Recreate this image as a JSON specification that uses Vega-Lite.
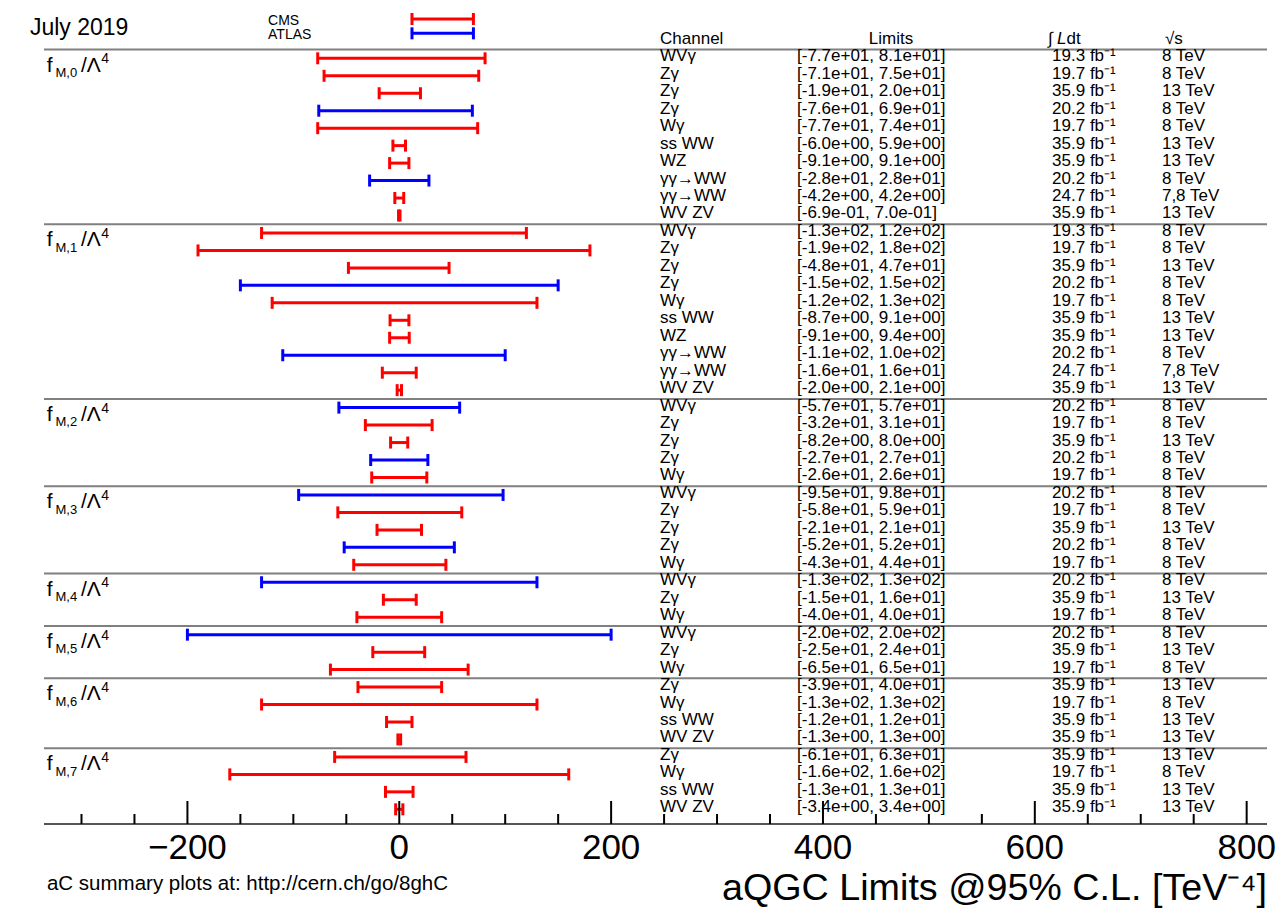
{
  "$schema": "https://vega.github.io/schema/vega-lite/v6.json",
  "autosize": {"type": "none"},
  "padding": {"left": 44, "top": 8, "right": 11, "bottom": 84},
  "width": 1223,
  "height": 816,
  "background": "white",
  "config": {
    "view": {"stroke": null},
    "text": {"font": "Liberation Sans", "fontSize": 17, "color": "#000000"},
    "tick": {"opacity": 1}
  },
  "datasets": {
    "limits": [
      {"row": 0, "ch": "WVγ", "lo": -77, "hi": 81, "lim": "[-7.7e+01, 8.1e+01]", "lumi": "19.3 fb⁻¹", "E": "8 TeV", "exp": "CMS"},
      {"row": 1, "ch": "Zγ", "lo": -71, "hi": 75, "lim": "[-7.1e+01, 7.5e+01]", "lumi": "19.7 fb⁻¹", "E": "8 TeV", "exp": "CMS"},
      {"row": 2, "ch": "Zγ", "lo": -19, "hi": 20, "lim": "[-1.9e+01, 2.0e+01]", "lumi": "35.9 fb⁻¹", "E": "13 TeV", "exp": "CMS"},
      {"row": 3, "ch": "Zγ", "lo": -76, "hi": 69, "lim": "[-7.6e+01, 6.9e+01]", "lumi": "20.2 fb⁻¹", "E": "8 TeV", "exp": "ATLAS"},
      {"row": 4, "ch": "Wγ", "lo": -77, "hi": 74, "lim": "[-7.7e+01, 7.4e+01]", "lumi": "19.7 fb⁻¹", "E": "8 TeV", "exp": "CMS"},
      {"row": 5, "ch": "ss WW", "lo": -6.0, "hi": 5.9, "lim": "[-6.0e+00, 5.9e+00]", "lumi": "35.9 fb⁻¹", "E": "13 TeV", "exp": "CMS"},
      {"row": 6, "ch": "WZ", "lo": -9.1, "hi": 9.1, "lim": "[-9.1e+00, 9.1e+00]", "lumi": "35.9 fb⁻¹", "E": "13 TeV", "exp": "CMS"},
      {"row": 7, "ch": "γγ→WW", "lo": -28, "hi": 28, "lim": "[-2.8e+01, 2.8e+01]", "lumi": "20.2 fb⁻¹", "E": "8 TeV", "exp": "ATLAS"},
      {"row": 8, "ch": "γγ→WW", "lo": -4.2, "hi": 4.2, "lim": "[-4.2e+00, 4.2e+00]", "lumi": "24.7 fb⁻¹", "E": "7,8 TeV", "exp": "CMS"},
      {"row": 9, "ch": "WV ZV", "lo": -0.69, "hi": 0.70, "lim": "[-6.9e-01, 7.0e-01]", "lumi": "35.9 fb⁻¹", "E": "13 TeV", "exp": "CMS"},
      {"row": 10, "ch": "WVγ", "lo": -130, "hi": 120, "lim": "[-1.3e+02, 1.2e+02]", "lumi": "19.3 fb⁻¹", "E": "8 TeV", "exp": "CMS"},
      {"row": 11, "ch": "Zγ", "lo": -190, "hi": 180, "lim": "[-1.9e+02, 1.8e+02]", "lumi": "19.7 fb⁻¹", "E": "8 TeV", "exp": "CMS"},
      {"row": 12, "ch": "Zγ", "lo": -48, "hi": 47, "lim": "[-4.8e+01, 4.7e+01]", "lumi": "35.9 fb⁻¹", "E": "13 TeV", "exp": "CMS"},
      {"row": 13, "ch": "Zγ", "lo": -150, "hi": 150, "lim": "[-1.5e+02, 1.5e+02]", "lumi": "20.2 fb⁻¹", "E": "8 TeV", "exp": "ATLAS"},
      {"row": 14, "ch": "Wγ", "lo": -120, "hi": 130, "lim": "[-1.2e+02, 1.3e+02]", "lumi": "19.7 fb⁻¹", "E": "8 TeV", "exp": "CMS"},
      {"row": 15, "ch": "ss WW", "lo": -8.7, "hi": 9.1, "lim": "[-8.7e+00, 9.1e+00]", "lumi": "35.9 fb⁻¹", "E": "13 TeV", "exp": "CMS"},
      {"row": 16, "ch": "WZ", "lo": -9.1, "hi": 9.4, "lim": "[-9.1e+00, 9.4e+00]", "lumi": "35.9 fb⁻¹", "E": "13 TeV", "exp": "CMS"},
      {"row": 17, "ch": "γγ→WW", "lo": -110, "hi": 100, "lim": "[-1.1e+02, 1.0e+02]", "lumi": "20.2 fb⁻¹", "E": "8 TeV", "exp": "ATLAS"},
      {"row": 18, "ch": "γγ→WW", "lo": -16, "hi": 16, "lim": "[-1.6e+01, 1.6e+01]", "lumi": "24.7 fb⁻¹", "E": "7,8 TeV", "exp": "CMS"},
      {"row": 19, "ch": "WV ZV", "lo": -2.0, "hi": 2.1, "lim": "[-2.0e+00, 2.1e+00]", "lumi": "35.9 fb⁻¹", "E": "13 TeV", "exp": "CMS"},
      {"row": 20, "ch": "WVγ", "lo": -57, "hi": 57, "lim": "[-5.7e+01, 5.7e+01]", "lumi": "20.2 fb⁻¹", "E": "8 TeV", "exp": "ATLAS"},
      {"row": 21, "ch": "Zγ", "lo": -32, "hi": 31, "lim": "[-3.2e+01, 3.1e+01]", "lumi": "19.7 fb⁻¹", "E": "8 TeV", "exp": "CMS"},
      {"row": 22, "ch": "Zγ", "lo": -8.2, "hi": 8.0, "lim": "[-8.2e+00, 8.0e+00]", "lumi": "35.9 fb⁻¹", "E": "13 TeV", "exp": "CMS"},
      {"row": 23, "ch": "Zγ", "lo": -27, "hi": 27, "lim": "[-2.7e+01, 2.7e+01]", "lumi": "20.2 fb⁻¹", "E": "8 TeV", "exp": "ATLAS"},
      {"row": 24, "ch": "Wγ", "lo": -26, "hi": 26, "lim": "[-2.6e+01, 2.6e+01]", "lumi": "19.7 fb⁻¹", "E": "8 TeV", "exp": "CMS"},
      {"row": 25, "ch": "WVγ", "lo": -95, "hi": 98, "lim": "[-9.5e+01, 9.8e+01]", "lumi": "20.2 fb⁻¹", "E": "8 TeV", "exp": "ATLAS"},
      {"row": 26, "ch": "Zγ", "lo": -58, "hi": 59, "lim": "[-5.8e+01, 5.9e+01]", "lumi": "19.7 fb⁻¹", "E": "8 TeV", "exp": "CMS"},
      {"row": 27, "ch": "Zγ", "lo": -21, "hi": 21, "lim": "[-2.1e+01, 2.1e+01]", "lumi": "35.9 fb⁻¹", "E": "13 TeV", "exp": "CMS"},
      {"row": 28, "ch": "Zγ", "lo": -52, "hi": 52, "lim": "[-5.2e+01, 5.2e+01]", "lumi": "20.2 fb⁻¹", "E": "8 TeV", "exp": "ATLAS"},
      {"row": 29, "ch": "Wγ", "lo": -43, "hi": 44, "lim": "[-4.3e+01, 4.4e+01]", "lumi": "19.7 fb⁻¹", "E": "8 TeV", "exp": "CMS"},
      {"row": 30, "ch": "WVγ", "lo": -130, "hi": 130, "lim": "[-1.3e+02, 1.3e+02]", "lumi": "20.2 fb⁻¹", "E": "8 TeV", "exp": "ATLAS"},
      {"row": 31, "ch": "Zγ", "lo": -15, "hi": 16, "lim": "[-1.5e+01, 1.6e+01]", "lumi": "35.9 fb⁻¹", "E": "13 TeV", "exp": "CMS"},
      {"row": 32, "ch": "Wγ", "lo": -40, "hi": 40, "lim": "[-4.0e+01, 4.0e+01]", "lumi": "19.7 fb⁻¹", "E": "8 TeV", "exp": "CMS"},
      {"row": 33, "ch": "WVγ", "lo": -200, "hi": 200, "lim": "[-2.0e+02, 2.0e+02]", "lumi": "20.2 fb⁻¹", "E": "8 TeV", "exp": "ATLAS"},
      {"row": 34, "ch": "Zγ", "lo": -25, "hi": 24, "lim": "[-2.5e+01, 2.4e+01]", "lumi": "35.9 fb⁻¹", "E": "13 TeV", "exp": "CMS"},
      {"row": 35, "ch": "Wγ", "lo": -65, "hi": 65, "lim": "[-6.5e+01, 6.5e+01]", "lumi": "19.7 fb⁻¹", "E": "8 TeV", "exp": "CMS"},
      {"row": 36, "ch": "Zγ", "lo": -39, "hi": 40, "lim": "[-3.9e+01, 4.0e+01]", "lumi": "35.9 fb⁻¹", "E": "13 TeV", "exp": "CMS"},
      {"row": 37, "ch": "Wγ", "lo": -130, "hi": 130, "lim": "[-1.3e+02, 1.3e+02]", "lumi": "19.7 fb⁻¹", "E": "8 TeV", "exp": "CMS"},
      {"row": 38, "ch": "ss WW", "lo": -12, "hi": 12, "lim": "[-1.2e+01, 1.2e+01]", "lumi": "35.9 fb⁻¹", "E": "13 TeV", "exp": "CMS"},
      {"row": 39, "ch": "WV ZV", "lo": -1.3, "hi": 1.3, "lim": "[-1.3e+00, 1.3e+00]", "lumi": "35.9 fb⁻¹", "E": "13 TeV", "exp": "CMS"},
      {"row": 40, "ch": "Zγ", "lo": -61, "hi": 63, "lim": "[-6.1e+01, 6.3e+01]", "lumi": "35.9 fb⁻¹", "E": "13 TeV", "exp": "CMS"},
      {"row": 41, "ch": "Wγ", "lo": -160, "hi": 160, "lim": "[-1.6e+02, 1.6e+02]", "lumi": "19.7 fb⁻¹", "E": "8 TeV", "exp": "CMS"},
      {"row": 42, "ch": "ss WW", "lo": -13, "hi": 13, "lim": "[-1.3e+01, 1.3e+01]", "lumi": "35.9 fb⁻¹", "E": "13 TeV", "exp": "CMS"},
      {"row": 43, "ch": "WV ZV", "lo": -3.4, "hi": 3.4, "lim": "[-3.4e+00, 3.4e+00]", "lumi": "35.9 fb⁻¹", "E": "13 TeV", "exp": "CMS"}
    ],
    "groups": [
      {"g": "M,0", "row": 0}, {"g": "M,1", "row": 10}, {"g": "M,2", "row": 20}, {"g": "M,3", "row": 25},
      {"g": "M,4", "row": 30}, {"g": "M,5", "row": 33}, {"g": "M,6", "row": 36}, {"g": "M,7", "row": 40}
    ],
    "seps": [{"b": -0.5}, {"b": 9.5}, {"b": 19.5}, {"b": 24.5}, {"b": 29.5}, {"b": 32.5}, {"b": 35.5}, {"b": 39.5}],
    "majorTicks": [{"v": -200}, {"v": 0}, {"v": 200}, {"v": 400}, {"v": 600}, {"v": 800}],
    "minorTicks": [{"v": -300}, {"v": -250}, {"v": -150}, {"v": -100}, {"v": -50}, {"v": 50}, {"v": 100}, {"v": 150}, {"v": 250}, {"v": 300}, {"v": 350}, {"v": 450}, {"v": 500}, {"v": 550}, {"v": 650}, {"v": 700}, {"v": 750}],
    "one": [{}]
  },
  "layer": [
    {
      "data": {"name": "seps"},
      "mark": {"type": "rule", "color": "#808080", "strokeWidth": 2},
      "encoding": {
        "y": {"field": "b", "type": "quantitative", "scale": {"domain": [-2.88, 43.84], "reverse": true, "nice": false, "zero": false}, "axis": null}
      }
    },
    {
      "data": {"name": "one"},
      "mark": {"type": "rule", "color": "#555555", "strokeWidth": 2},
      "encoding": {
        "y": {"datum": 43.84, "type": "quantitative", "axis": null}
      }
    },
    {
      "data": {"name": "limits"},
      "mark": {"type": "rule", "strokeWidth": 3},
      "encoding": {
        "x": {"field": "lo", "type": "quantitative", "scale": {"domain": [-335.4, 819.2], "nice": false, "zero": false}, "axis": null},
        "x2": {"field": "hi"},
        "y": {"field": "row", "type": "quantitative", "axis": null},
        "color": {"field": "exp", "type": "nominal", "scale": {"domain": ["CMS", "ATLAS"], "range": ["#ff0000", "#0000ff"]}, "legend": null}
      }
    },
    {
      "data": {"name": "limits"},
      "mark": {"type": "tick", "orient": "vertical", "size": 12, "thickness": 3, "opacity": 1},
      "encoding": {
        "x": {"field": "lo", "type": "quantitative", "axis": null},
        "y": {"field": "row", "type": "quantitative", "axis": null},
        "color": {"field": "exp", "type": "nominal", "legend": null}
      }
    },
    {
      "data": {"name": "limits"},
      "mark": {"type": "tick", "orient": "vertical", "size": 12, "thickness": 3, "opacity": 1},
      "encoding": {
        "x": {"field": "hi", "type": "quantitative", "axis": null},
        "y": {"field": "row", "type": "quantitative", "axis": null},
        "color": {"field": "exp", "type": "nominal", "legend": null}
      }
    },
    {
      "data": {"name": "limits"},
      "mark": {"type": "text", "align": "left", "baseline": "alphabetic", "dy": 3},
      "encoding": {
        "x": {"datum": 246.2, "type": "quantitative", "axis": null},
        "y": {"field": "row", "type": "quantitative", "axis": null},
        "text": {"field": "ch"}
      }
    },
    {
      "data": {"name": "limits"},
      "mark": {"type": "text", "align": "left", "baseline": "alphabetic", "dy": 3},
      "encoding": {
        "x": {"datum": 375.5, "type": "quantitative", "axis": null},
        "y": {"field": "row", "type": "quantitative", "axis": null},
        "text": {"field": "lim"}
      }
    },
    {
      "data": {"name": "limits"},
      "mark": {"type": "text", "align": "left", "baseline": "alphabetic", "dy": 3},
      "encoding": {
        "x": {"datum": 616.3, "type": "quantitative", "axis": null},
        "y": {"field": "row", "type": "quantitative", "axis": null},
        "text": {"field": "lumi"}
      }
    },
    {
      "data": {"name": "limits"},
      "mark": {"type": "text", "align": "left", "baseline": "alphabetic", "dy": 3},
      "encoding": {
        "x": {"datum": 720.0, "type": "quantitative", "axis": null},
        "y": {"field": "row", "type": "quantitative", "axis": null},
        "text": {"field": "E"}
      }
    },
    {
      "data": {"name": "groups"},
      "mark": {"type": "text", "align": "left", "baseline": "alphabetic", "dy": 13.4, "fontSize": 21, "text": "f"},
      "encoding": {
        "x": {"datum": -332.9, "type": "quantitative", "axis": null},
        "y": {"field": "row", "type": "quantitative", "axis": null}
      }
    },
    {
      "data": {"name": "groups"},
      "mark": {"type": "text", "align": "left", "baseline": "alphabetic", "dy": 18.7, "fontSize": 13},
      "encoding": {
        "x": {"datum": -324.5, "type": "quantitative", "axis": null},
        "y": {"field": "row", "type": "quantitative", "axis": null},
        "text": {"field": "g"}
      }
    },
    {
      "data": {"name": "groups"},
      "mark": {"type": "text", "align": "left", "baseline": "alphabetic", "dy": 13.4, "fontSize": 21, "text": "/Λ"},
      "encoding": {
        "x": {"datum": -300.5, "type": "quantitative", "axis": null},
        "y": {"field": "row", "type": "quantitative", "axis": null}
      }
    },
    {
      "data": {"name": "groups"},
      "mark": {"type": "text", "align": "left", "baseline": "alphabetic", "dy": 5, "fontSize": 14, "text": "4"},
      "encoding": {
        "x": {"datum": -281.3, "type": "quantitative", "axis": null},
        "y": {"field": "row", "type": "quantitative", "axis": null}
      }
    },
    {
      "data": {"values": [{"exp": "CMS", "lo": 12, "hi": 70}]},
      "encoding": {"y": {"datum": -2.25, "type": "quantitative", "axis": null}},
      "layer": [
        {"mark": {"type": "rule", "strokeWidth": 3, "color": "#ff0000"}, "encoding": {"x": {"field": "lo", "type": "quantitative", "axis": null}, "x2": {"field": "hi"}}},
        {"mark": {"type": "tick", "orient": "vertical", "size": 12, "thickness": 3, "opacity": 1, "color": "#ff0000"}, "encoding": {"x": {"field": "lo", "type": "quantitative", "axis": null}}},
        {"mark": {"type": "tick", "orient": "vertical", "size": 12, "thickness": 3, "opacity": 1, "color": "#ff0000"}, "encoding": {"x": {"field": "hi", "type": "quantitative", "axis": null}}},
        {"mark": {"type": "text", "align": "left", "baseline": "alphabetic", "dy": 6, "fontSize": 14}, "encoding": {"x": {"datum": -123.9, "type": "quantitative", "axis": null}, "text": {"field": "exp"}}}
      ]
    },
    {
      "data": {"values": [{"exp": "ATLAS", "lo": 12, "hi": 70}]},
      "encoding": {"y": {"datum": -1.43, "type": "quantitative", "axis": null}},
      "layer": [
        {"mark": {"type": "rule", "strokeWidth": 3, "color": "#0000ff"}, "encoding": {"x": {"field": "lo", "type": "quantitative", "axis": null}, "x2": {"field": "hi"}}},
        {"mark": {"type": "tick", "orient": "vertical", "size": 12, "thickness": 3, "opacity": 1, "color": "#0000ff"}, "encoding": {"x": {"field": "lo", "type": "quantitative", "axis": null}}},
        {"mark": {"type": "tick", "orient": "vertical", "size": 12, "thickness": 3, "opacity": 1, "color": "#0000ff"}, "encoding": {"x": {"field": "hi", "type": "quantitative", "axis": null}}},
        {"mark": {"type": "text", "align": "left", "baseline": "alphabetic", "dy": 6, "fontSize": 14}, "encoding": {"x": {"datum": -123.9, "type": "quantitative", "axis": null}, "text": {"field": "exp"}}}
      ]
    },
    {
      "data": {"name": "one"},
      "encoding": {"y": {"datum": -0.8, "type": "quantitative", "axis": null}},
      "layer": [
        {"mark": {"type": "text", "align": "left", "baseline": "alphabetic", "text": "Channel"}, "encoding": {"x": {"datum": 246.2, "type": "quantitative", "axis": null}}},
        {"mark": {"type": "text", "align": "center", "baseline": "alphabetic", "text": "Limits"}, "encoding": {"x": {"datum": 464.2, "type": "quantitative", "axis": null}}},
        {"mark": {"type": "text", "align": "left", "baseline": "alphabetic", "text": "∫"}, "encoding": {"x": {"datum": 612.4, "type": "quantitative", "axis": null}}},
        {"mark": {"type": "text", "align": "left", "baseline": "alphabetic", "fontStyle": "italic", "text": "L"}, "encoding": {"x": {"datum": 620.9, "type": "quantitative", "axis": null}}},
        {"mark": {"type": "text", "align": "left", "baseline": "alphabetic", "text": "dt"}, "encoding": {"x": {"datum": 630.0, "type": "quantitative", "axis": null}}},
        {"mark": {"type": "text", "align": "left", "baseline": "alphabetic", "text": "√s"}, "encoding": {"x": {"datum": 722.8, "type": "quantitative", "axis": null}}}
      ]
    },
    {
      "data": {"name": "one"},
      "mark": {"type": "text", "align": "left", "baseline": "alphabetic", "fontSize": 23, "text": "July 2019"},
      "encoding": {
        "x": {"datum": -348.7, "type": "quantitative", "axis": null},
        "y": {"datum": -1.36, "type": "quantitative", "axis": null}
      }
    },
    {
      "data": {"name": "one"},
      "mark": {"type": "text", "align": "left", "baseline": "alphabetic", "fontSize": 20.5, "text": "aC summary plots at: http://cern.ch/go/8ghC"},
      "encoding": {
        "x": {"datum": -332.6, "type": "quantitative", "axis": null},
        "y": {"datum": 47.62, "type": "quantitative", "axis": null}
      }
    },
    {
      "data": {"name": "one"},
      "mark": {"type": "text", "align": "right", "baseline": "alphabetic", "fontSize": 37.7, "text": "aQGC Limits @95% C.L. [TeV⁻⁴]"},
      "encoding": {
        "x": {"datum": 819.2, "type": "quantitative", "axis": null},
        "y": {"datum": 48.19, "type": "quantitative", "axis": null}
      }
    },
    {
      "data": {"name": "majorTicks"},
      "mark": {"type": "text", "align": "center", "baseline": "alphabetic", "fontSize": 35},
      "encoding": {
        "x": {"field": "v", "type": "quantitative", "axis": null},
        "y": {"datum": 45.85, "type": "quantitative", "axis": null},
        "text": {"field": "v", "type": "quantitative", "format": "d"}
      }
    },
    {
      "data": {"name": "majorTicks"},
      "mark": {"type": "tick", "orient": "vertical", "size": 23, "thickness": 2, "yOffset": -11.5, "color": "#000000", "opacity": 1},
      "encoding": {
        "x": {"field": "v", "type": "quantitative", "axis": null},
        "y": {"datum": 43.84, "type": "quantitative", "axis": null}
      }
    },
    {
      "data": {"name": "minorTicks"},
      "mark": {"type": "tick", "orient": "vertical", "size": 10, "thickness": 2, "yOffset": -5, "color": "#000000", "opacity": 1},
      "encoding": {
        "x": {"field": "v", "type": "quantitative", "axis": null},
        "y": {"datum": 43.84, "type": "quantitative", "axis": null}
      }
    }
  ]
}
